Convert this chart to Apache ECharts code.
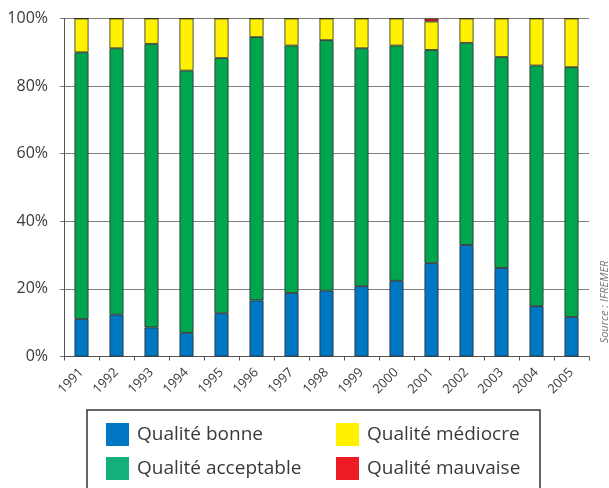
<!DOCTYPE html>
<html>
<head>
<meta charset="utf-8">
<script src="https://cdn.jsdelivr.net/npm/echarts@6/dist/echarts.min.js"></script>
<style>
  html, body { margin: 0; padding: 0; background: #fff; }
  #chart { width: 609px; height: 488px; }
</style>
</head>
<body>
<div id="chart"></div>
<script>
// years on the x axis
const years = ["1991", "1992", "1993", "1994", "1995", "1996", "1997", "1998",
  "1999", "2000", "2001", "2002", "2003", "2004", "2005"];

// shares in %
const bonne = [11.1, 12.4, 8.6, 7.0, 12.8, 16.6, 18.8, 19.5, 20.8, 22.4, 27.6, 33.0, 26.2, 14.9, 11.7];
const acceptable = [78.9, 78.8, 83.9, 77.6, 75.5, 77.9, 73.2, 74.1, 70.4, 69.6, 63.1, 59.8, 62.4, 71.2, 73.9];
const mediocre = [10.0, 8.8, 7.5, 15.4, 11.7, 5.5, 8.0, 6.4, 8.8, 8.0, 8.4, 7.2, 11.4, 13.9, 14.4];
const mauvaise = [0, 0, 0, 0, 0, 0, 0, 0, 0, 0, 0.9, 0, 0, 0, 0];

const yTicks = [0, 20, 40, 60, 80, 100];

const font = "'Open Sans', 'Noto Sans', sans-serif";
const txt = "#3a3a3a";

function barSeries(name, data, color) {
  return {
    name: name,
    type: "bar",
    stack: "q",
    data: data,
    barWidth: 14,
    itemStyle: { color: color, borderColor: "#2a2a2a", borderWidth: 0.8 },
    emphasis: { disabled: true }
  };
}

function legendCol(left, items) {
  return {
    orient: "vertical",
    left: left,
    top: 423,
    padding: 0,
    height: 65,
    itemWidth: 23,
    itemHeight: 23,
    itemGap: 11,
    icon: "rect",
    selectedMode: false,
    textStyle: { fontSize: 19, color: txt, fontFamily: font, padding: [0, 0, 0, 3] },
    data: items
  };
}

const chart = echarts.init(document.getElementById("chart"));
chart.setOption({
  animation: false,
  textStyle: { fontFamily: font },
  grid: { left: 64, right: 20, top: 18.5, bottom: 131.5, containLabel: false },
  legend: [
    legendCol(106, [
      { name: "Qualité bonne", itemStyle: { color: "#0077c2", borderWidth: 0 } },
      { name: "Qualité acceptable", itemStyle: { color: "#14b07a", borderWidth: 0 } }
    ]),
    legendCol(336, [
      { name: "Qualité médiocre", itemStyle: { color: "#fff200", borderWidth: 0 } },
      { name: "Qualité mauvaise", itemStyle: { color: "#ed1c24", borderWidth: 0 } }
    ])
  ],
  xAxis: {
    type: "category",
    data: years,
    boundaryGap: true,
    axisLine: { lineStyle: { color: "#555", width: 1 } },
    axisTick: { show: true, length: 4, lineStyle: { color: "#555" } },
    axisLabel: { rotate: 45, fontSize: 13, color: txt, margin: 14, fontFamily: font }
  },
  yAxis: {
    type: "value",
    min: yTicks[0],
    max: yTicks[yTicks.length - 1],
    interval: 20,
    axisLine: { show: true, lineStyle: { color: "#555", width: 1 } },
    axisTick: { show: true, length: 4, lineStyle: { color: "#777" } },
    axisLabel: { formatter: "{value}%", fontSize: 16, color: txt, margin: 16, fontFamily: font },
    splitLine: { show: true, lineStyle: { color: "#808080", width: 1 } }
  },
  series: [
    barSeries("Qualité bonne", bonne, "#0077c2"),
    barSeries("Qualité acceptable", acceptable, "#00a550"),
    barSeries("Qualité médiocre", mediocre, "#fff200"),
    barSeries("Qualité mauvaise", mauvaise, "#ed1c24")
  ],
  graphic: [
    {
      type: "rect",
      shape: { x: 87, y: 410, width: 453, height: 82 },
      style: { fill: "none", stroke: "#333", lineWidth: 1.5 },
      silent: true
    },
    {
      type: "text",
      x: 605,
      y: 302,
      rotation: Math.PI / 2,
      style: {
        text: "Source : IFREMER",
        fontSize: 11,
        fontStyle: "italic",
        fill: "#777",
        fontFamily: font,
        align: "center",
        verticalAlign: "middle"
      },
      silent: true
    }
  ]
});
</script>
</body>
</html>
